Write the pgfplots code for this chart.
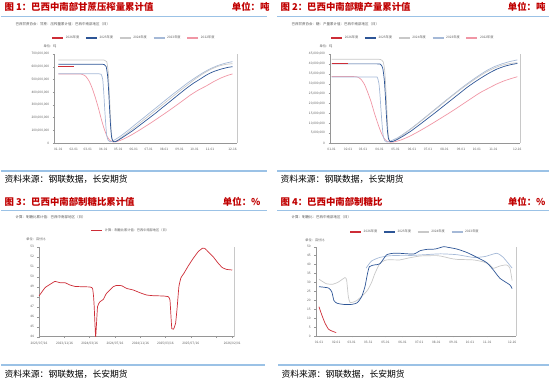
\documentclass[border=0pt]{standalone}
\usepackage{fontspec}
\setmainfont{Noto Sans CJK SC}
\usepackage{pgfplots}
\pgfplotsset{compat=1.18}
\definecolor{titlered}{RGB}{192,0,0}
\definecolor{rulebl}{RGB}{155,194,230}
\definecolor{c26}{RGB}{205,45,55}
\definecolor{c25}{RGB}{45,85,150}
\definecolor{c24}{RGB}{200,200,200}
\definecolor{c23}{RGB}{165,185,215}
\definecolor{c22}{RGB}{240,150,165}
\definecolor{axgray}{RGB}{150,150,150}
\definecolor{txtgray}{RGB}{90,90,90}
\newcommand{\tk}{\fontsize{3.2}{3.6}\selectfont}
\pgfplotsset{
  base/.style={
    scale only axis, anchor=south west,
    axis x line=bottom, axis y line=left,
    axis line style={axgray, line width=0.4pt, -},
    tick style={axgray, line width=0.3pt},
    major tick length=1.5pt, tick align=outside,
    tick label style={font=\tk, text=txtgray},
    /pgf/number format/assume math mode=true,
    legend style={draw=none, fill=none, font=\tk, text=txtgray, legend columns=-1,
      /tikz/every even column/.append style={column sep=4pt}, inner sep=0pt},
    legend image code/.code={\draw[##1, line width=1.3pt] (0pt,0pt) -- (11pt,0pt);},
    every axis plot/.append style={line width=0.7pt, no markers, smooth, tension=0.35},
  }
}
\begin{document}
\begin{tikzpicture}
\useasboundingbox (0,0) rectangle (550pt,-385pt);
% ---------- titles and rules ----------
\begin{scope}[font=\fontsize{9.4}{10}\selectfont\bfseries, text=titlered]
\node[anchor=west] at (1pt,-7pt) {图 1：巴西中南部甘蔗压榨量累计值};
\node[anchor=east] at (273pt,-7pt) {单位：吨};
\node[anchor=west] at (277pt,-7pt) {图 2：巴西中南部糖产量累计值};
\node[anchor=east] at (549pt,-7pt) {单位：吨};
\node[anchor=west] at (1pt,-202pt) {图 3：巴西中南部制糖比累计值};
\node[anchor=east] at (264pt,-202pt) {单位：\%};
\node[anchor=west] at (277pt,-202pt) {图 4：巴西中南部制糖比};
\node[anchor=east] at (549pt,-202pt) {单位：\%};
\end{scope}
\begin{scope}[rulebl, line width=1.5pt]
\draw (1pt,-16.7pt) -- (267pt,-16.7pt);
\draw (277pt,-16.7pt) -- (549pt,-16.7pt);
\draw (1pt,-210.7pt) -- (267pt,-210.7pt);
\draw (277pt,-210.7pt) -- (549pt,-210.7pt);
\draw (1pt,-171pt) -- (267pt,-171pt);
\draw (277pt,-171pt) -- (549pt,-171pt);
\draw (1pt,-365pt) -- (265pt,-365pt);
\draw (278pt,-365pt) -- (549pt,-365pt);
\end{scope}
\begin{scope}[font=\fontsize{8.8}{9}\selectfont]
\node[anchor=west] at (1pt,-179.5pt) {资料来源：钢联数据，长安期货};
\node[anchor=west] at (277pt,-179.5pt) {资料来源：钢联数据，长安期货};
\node[anchor=west] at (1pt,-374pt) {资料来源：钢联数据，长安期货};
\node[anchor=west] at (278pt,-374pt) {资料来源：钢联数据，长安期货};
\end{scope}
\begin{scope}[font=\fontsize{3.5}{4}\selectfont, text=txtgray]
\node[anchor=west] at (12pt,-24.5pt) {巴西甘蔗协会：甘蔗：压榨量累计值：巴西中南部地区（日）};
\node[anchor=west] at (288pt,-24.5pt) {巴西甘蔗协会：糖：产量累计值：巴西中南部地区（日）};
\node[anchor=west] at (12pt,-217pt) {计算：制糖比累计值：巴西中南部地区（日）};
\node[anchor=west] at (288pt,-217pt) {计算：制糖比：巴西中南部地区（日）};
\end{scope}
\begin{scope}[font=\tk, text=txtgray]
\node at (50pt,-46pt) {单位：吨};
\node at (326pt,-46pt) {单位：吨};
\node at (36pt,-239pt) {单位：百分比};
\node at (315pt,-240pt) {单位：百分比};
\end{scope}

% ---------- Panel 1 ----------
\begin{axis}[base, name=p1, at={(54.3pt,-143pt)}, width=182.7pt, height=89pt,
  xmin=-8, xmax=358, ymin=0, ymax=700,
  xtick={0,31,59,90,120,151,181,212,243,273,304,349},
  xticklabels={01-01,02-01,03-01,04-01,05-01,06-01,07-01,08-01,09-01,10-01,11-01,12-16},
  ytick={0,100,...,700},
  yticklabels={0,{100,000,000},{200,000,000},{300,000,000},{400,000,000},{500,000,000},{600,000,000},{700,000,000}},
  legend style={at={(0.436,1.18)}, anchor=center}]
\addlegendimage{c26}\addlegendentry{2026年度}
\addlegendimage{c25}\addlegendentry{2025年度}
\addlegendimage{c24}\addlegendentry{2024年度}
\addlegendimage{c23}\addlegendentry{2023年度}
\addlegendimage{c22}\addlegendentry{2022年度}
\addplot[c22, forget plot] coordinates {(0,543)(40,543)(48,540)(55,525)(62,485)(68,430)(74,360)(80,280)(86,190)(92,110)(98,50)(104,18)(110,8)(118,12)(130,30)(145,60)(160,95)(175,132)(190,170)(205,210)(220,250)(235,292)(250,335)(265,378)(280,415)(297,450)(310,480)(325,510)(340,533)(349,543)};
\addplot[c23, forget plot] coordinates {(0,545)(40,545)(70,545)(82,544)(86,540)(89,500)(91,400)(93,270)(95,150)(97,60)(100,20)(104,10)(110,18)(125,55)(140,100)(155,148)(170,195)(185,243)(200,290)(215,338)(230,385)(245,430)(260,475)(275,515)(290,553)(305,585)(320,610)(335,628)(349,640)};
\addplot[c24, forget plot] coordinates {(0,653)(45,653)(85,653)(92,652)(97,640)(100,560)(102,420)(104,250)(106,100)(108,30)(111,12)(116,15)(125,40)(140,85)(155,130)(170,178)(185,225)(200,272)(215,320)(230,368)(245,415)(260,460)(275,505)(290,545)(305,578)(320,603)(335,618)(349,624)};
\addplot[c25, forget plot] coordinates {(0,619)(30,619)(60,619)(85,619)(92,617)(96,600)(99,520)(101,400)(103,250)(105,120)(107,40)(110,12)(114,10)(120,22)(135,60)(150,100)(165,145)(180,190)(195,235)(210,283)(225,330)(240,378)(255,425)(270,468)(285,505)(297,535)(310,560)(325,580)(340,595)(349,600)};
\addplot[c26, forget plot] coordinates {(0,601)(10,601)(20,601)(31,601)};
\end{axis}
\draw[c24, line width=1pt] (p1.south east) -- (p1.north east);

% ---------- Panel 2 ----------
\begin{axis}[base, name=p2, at={(330pt,-143pt)}, width=190pt, height=89pt,
  xmin=-3, xmax=354, ymin=0, ymax=45,
  xtick={0,31,59,90,120,151,181,212,243,273,304,349},
  xticklabels={01-01,02-01,03-01,04-01,05-01,06-01,07-01,08-01,09-01,10-01,11-01,12-16},
  ytick={0,5,...,45},
  yticklabels={0,{5,000,000},{10,000,000},{15,000,000},{20,000,000},{25,000,000},{30,000,000},{35,000,000},{40,000,000},{45,000,000}},
  legend style={at={(0.437,1.18)}, anchor=center}]
\addlegendimage{c26}\addlegendentry{2026年度}
\addlegendimage{c25}\addlegendentry{2025年度}
\addlegendimage{c24}\addlegendentry{2024年度}
\addlegendimage{c23}\addlegendentry{2023年度}
\addlegendimage{c22}\addlegendentry{2022年度}
\addplot[c22, forget plot] coordinates {(0,33.6)(40,33.6)(48,33.4)(55,32.3)(62,29.5)(68,25.5)(74,21)(80,15.5)(86,10.5)(92,6)(98,2.6)(104,0.9)(110,0.4)(118,0.6)(130,1.5)(145,3.2)(160,5.3)(175,7.6)(190,10)(205,12.5)(220,15)(235,17.6)(250,20.3)(265,23)(280,25.6)(297,28)(310,29.8)(325,31.5)(340,32.8)(349,33.5)};
\addplot[c23, forget plot] coordinates {(0,33.4)(40,33.4)(82,33.4)(86,33.1)(89,30)(91,24)(93,16)(95,9)(97,3.6)(100,1.1)(104,0.5)(110,0.9)(125,2.8)(140,5.5)(155,8.5)(170,11.7)(185,15)(200,18.3)(215,21.6)(230,24.8)(245,28)(260,31)(275,33.8)(290,36.4)(305,38.5)(320,40)(335,41.2)(349,42)};
\addplot[c24, forget plot] coordinates {(0,42.3)(45,42.3)(85,42.3)(92,42.2)(97,41)(100,36)(102,27)(104,16)(106,6)(108,1.8)(111,0.6)(116,0.9)(125,2.4)(140,5.2)(155,8.3)(170,11.5)(185,14.8)(200,18)(215,21.3)(230,24.5)(245,27.6)(260,30.5)(275,33.3)(290,35.8)(305,37.8)(320,39.3)(335,40.2)(349,40.6)};
\addplot[c25, forget plot] coordinates {(0,40.0)(45,40.0)(85,40.0)(92,39.8)(96,38)(99,32)(101,24)(103,14)(105,6)(107,2)(110,0.8)(115,0.8)(122,1.6)(135,3.6)(150,6.2)(165,9.2)(180,12.3)(195,15.4)(210,18.6)(225,21.8)(240,25)(255,28.2)(270,31)(285,33.6)(297,35.5)(310,37.3)(325,38.8)(340,39.8)(349,40.2)};
\addplot[c26, forget plot] coordinates {(0,40.2)(10,40.2)(20,40.2)(31,40.2)};
\end{axis}
\draw[c24, line width=1pt] (p2.south east) -- (p2.north east);

% ---------- Panel 3 ----------
\begin{axis}[base, name=p3, at={(39pt,-336.7pt)}, width=195.3pt, height=90pt,
  xmin=0, xmax=941, ymin=44, ymax=53,
  xtick={0,123,244,366,489,609,731,854,931},
  xticklabels={2023/07/16,2023/11/16,2024/03/16,2024/07/16,2024/11/16,2025/03/16,2025/07/16,,2026/02/01},
  ytick={44,45,...,53},
  legend style={at={(0.47,1.178)}, anchor=center}]
\addlegendimage{c26}\addlegendentry{计算：制糖比累计值：巴西中南部地区（日）}
\addplot[c26, forget plot, tension=0.25] coordinates {(0,48.07)(29,48.9)(53,49.23)(77,49.53)(101,49.4)(125,49.4)(149,49.17)(173,49.03)(205,49.0)(246,48.97)(258,48.83)(263,48.0)(266,47)(273,44)(282,47.0)(294,47.5)(310,47.73)(323,48.27)(342,48.67)(358,49.0)(374,49.13)(398,49.1)(422,48.83)(454,48.67)(486,48.4)(518,48.17)(551,48.1)(599,48.07)(623,48.0)(631,47.67)(636,46)(640,44.8)(648,44.75)(658,45.33)(666,47)(674,49)(684,49.9)(698,50.33)(719,51.07)(743,51.83)(767,52.5)(788,52.85)(799,52.83)(815,52.5)(839,52.0)(864,51.33)(884,50.9)(904,50.73)(931,50.67)};
\end{axis}
\draw[c24, line width=1pt] (p3.south east) -- (p3.north east);

% ---------- Panel 4 ----------
\begin{axis}[base, name=p4, at={(315.7pt,-336pt)}, width=200.3pt, height=89.3pt,
  xmin=-6, xmax=356, ymin=0, ymax=50,
  xtick={0,31,59,89,120,151,181,212,243,273,304,349},
  xticklabels={01-01,02-01,03-01,03-31,05-01,06-01,07-01,08-01,09-01,10-01,11-01,12-16},
  ytick={0,5,...,50},
  legend style={at={(0.496,1.165)}, anchor=center}]
\addlegendimage{c26}\addlegendentry{2026年度}
\addlegendimage{c25}\addlegendentry{2025年度}
\addlegendimage{c24}\addlegendentry{2024年度}
\addlegendimage{c23}\addlegendentry{2023年度}
\addplot[c23, forget plot] coordinates {(85,38)(95,42)(110,44)(130,45)(160,45)(190,45.5)(220,46)(250,45.5)(279,44)(300,44.5)(321,46.3)(333,44)(349,38)};
\addplot[c24, forget plot] coordinates {(0,31.8)(13,29.3)(25,29)(35,30.2)(47,32.7)(50,31)(53,22)(56,18.8)(62,19)(68,19.8)(80,23)(88,25.8)(95,30)(101,35)(110,40.6)(122,42.6)(146,42.6)(159,43.5)(183,44.8)(213,45)(225,44.4)(237,43.5)(249,42.9)(279,42.6)(297,41.5)(309,39.8)(315,37.9)(327,39.2)(339,39.8)(345,38)(349,31)};
\addplot[c25, forget plot] coordinates {(0,27.6)(17,26.9)(23,24.8)(27,19.8)(33,18.3)(44,17.7)(59,17.7)(69,18.6)(77,22)(83,27.6)(87,34)(91,38.8)(100,39.8)(110,40.4)(122,45.4)(134,46.3)(146,46.3)(171,45.9)(183,47.8)(195,48.5)(210,48.7)(225,50)(234,49.6)(249,48.7)(267,46.8)(285,44.1)(303,41.1)(315,37)(327,32.3)(345,28.6)(349,26.5)};
\addplot[c26, forget plot] coordinates {(0,16.4)(5,11.8)(11,7.1)(17,3.9)(23,2.8)(31,1.9)};
\end{axis}
\draw[c24, line width=1pt] (p4.south east) -- (p4.north east);
\end{tikzpicture}
\end{document}
